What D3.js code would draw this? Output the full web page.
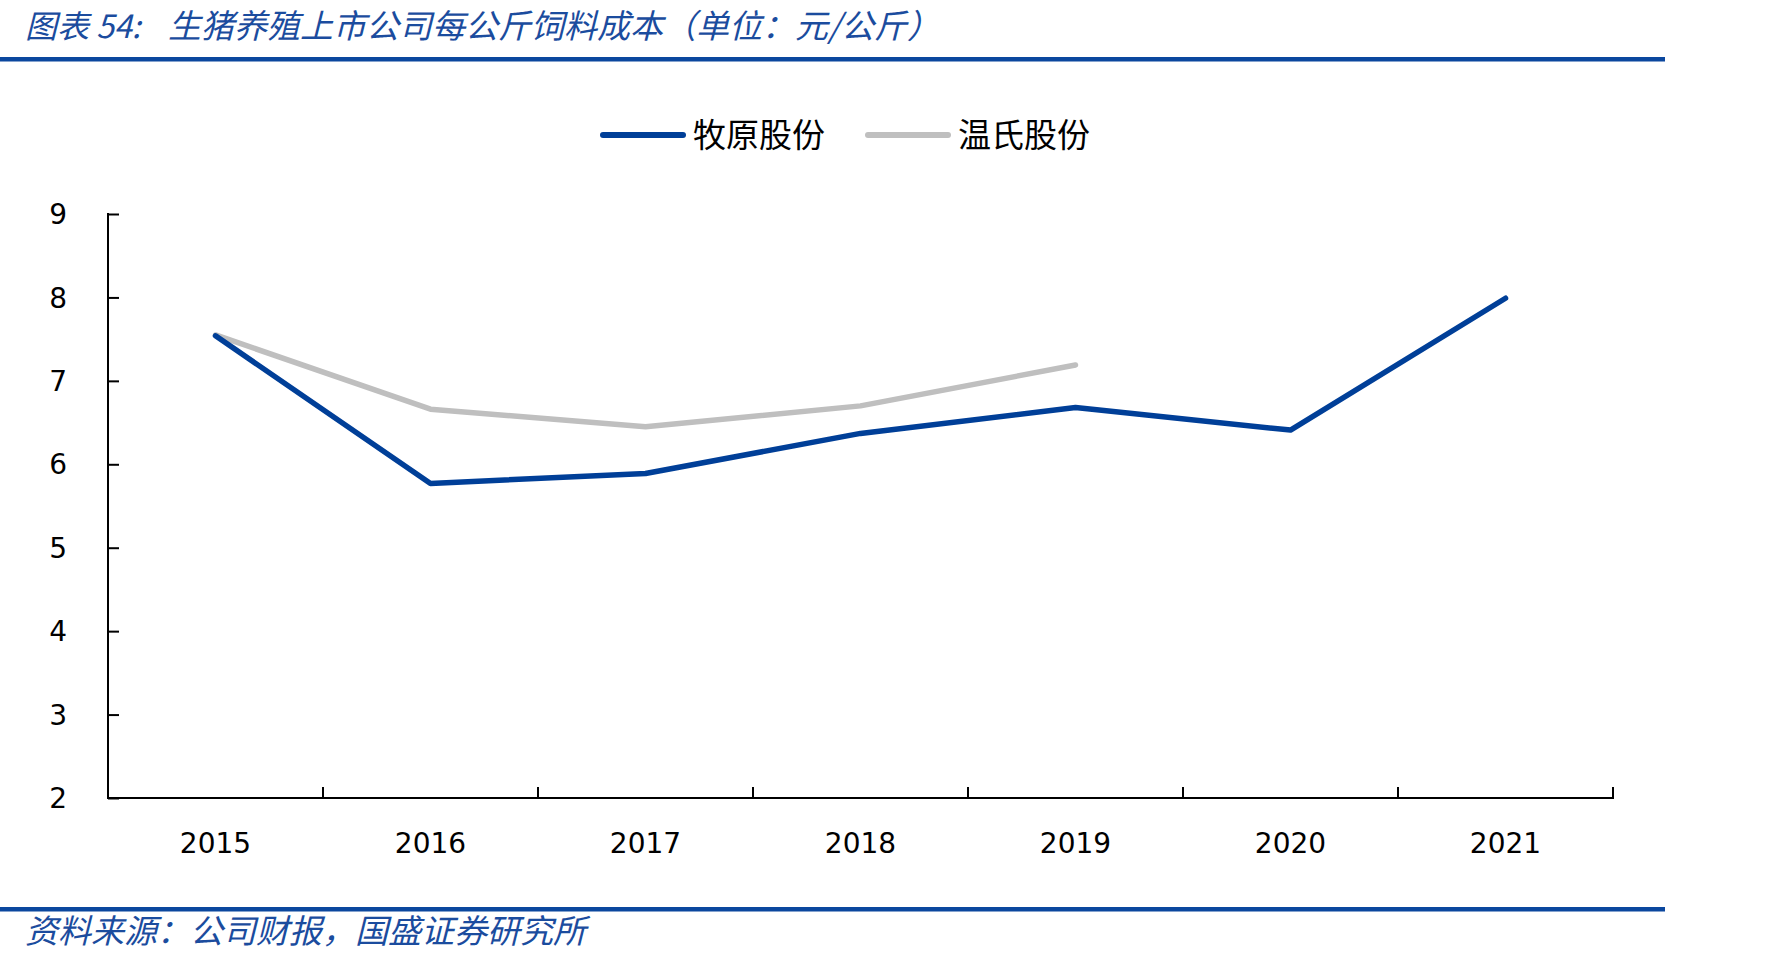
<!DOCTYPE html>
<html>
<head>
<meta charset="utf-8">
<script src="https://cdn.jsdelivr.net/npm/d3@7.9.0/dist/d3.min.js"></script>
<style>
  body { margin: 0; background: #fff; }
  svg { display: block; }
</style>
</head>
<body>
<svg id="chart" width="1784" height="961"></svg>
<script>
const years = ['2015', '2016', '2017', '2018', '2019', '2020', '2021']
const muyuan = [7.54, 5.77, 5.89, 6.37, 6.68, 6.41, 7.99]
const wens = [7.55, 6.66, 6.45, 6.70, 7.19, null, null]
const yTicks = [2, 3, 4, 5, 6, 7, 8, 9]

const titleLead = '图表 54:'
const titleText = '生猪养殖上市公司每公斤饲料成本（单位：元/公斤）'
const sourceText = '资料来源：公司财报，国盛证券研究所'

const blue = '#003f98'
const gray = '#bfbfbf'
const ruleBlue = '#0b479e'
const cjk = '"Noto Sans CJK SC", sans-serif'

const svg = d3.select('#chart')

// title + rules
svg.append('text')
    .attr('x', 25).attr('y', 38)
    .attr('font-family', cjk).attr('font-size', 32)
    .attr('font-style', 'italic')
    .attr('fill', '#1b4c9e')
    .text(titleLead)

svg.append('text')
    .attr('x', 168).attr('y', 38)
    .attr('font-family', cjk).attr('font-size', 33)
    .attr('font-style', 'italic')
    .attr('fill', '#1b4c9e')
    .text(titleText)

svg.append('rect').attr('x', 0).attr('y', 57).attr('width', 1665).attr('height', 4.5).attr('fill', ruleBlue)
svg.append('rect').attr('x', 0).attr('y', 907).attr('width', 1665).attr('height', 4.5).attr('fill', ruleBlue)

svg.append('text')
    .attr('x', 25).attr('y', 943)
    .attr('font-family', cjk).attr('font-size', 33)
    .attr('font-style', 'italic')
    .attr('fill', '#1b4c9e')
    .text(sourceText)

// scales
let x = d3.scaleBand().domain(years).range([108, 1613])
let y = d3.scaleLinear().domain([2, 9]).range([798, 214])
let cx = (d) => x(d) + x.bandwidth() / 2

// axes
let yAxis = svg.append('g')
    .attr('transform', 'translate(108,0)')
    .call(d3.axisRight(y).tickValues(yTicks).tickSize(11).tickFormat(''))
yAxis.select('.domain').remove()
yAxis.selectAll('line').attr('stroke', '#000').attr('stroke-width', 2)

svg.append('line')
    .attr('x1', 108).attr('x2', 108)
    .attr('y1', y(9) - 1).attr('y2', y(2) + 1)
    .attr('stroke', '#000').attr('stroke-width', 2)

svg.append('line')
    .attr('x1', 107).attr('x2', 1614)
    .attr('y1', y(2)).attr('y2', y(2))
    .attr('stroke', '#000').attr('stroke-width', 2)

let bounds = years.map((d) => x(d) + x.bandwidth())
svg.append('g').selectAll('line')
    .data(bounds)
    .join('line')
    .attr('x1', (d) => d).attr('x2', (d) => d)
    .attr('y1', y(2)).attr('y2', y(2) - 11)
    .attr('stroke', '#000').attr('stroke-width', 2)

svg.append('g').selectAll('text')
    .data(yTicks)
    .join('text')
    .attr('x', 67).attr('y', (d) => y(d))
    .attr('dy', '0.36em')
    .attr('text-anchor', 'end')
    .attr('font-family', 'DejaVu Sans, sans-serif').attr('font-size', 28)
    .attr('fill', '#000')
    .text((d) => d)

svg.append('g').selectAll('text')
    .data(years)
    .join('text')
    .attr('x', (d) => cx(d)).attr('y', 843)
    .attr('dy', '0.36em')
    .attr('text-anchor', 'middle')
    .attr('font-family', 'DejaVu Sans, sans-serif').attr('font-size', 28)
    .attr('fill', '#000')
    .text((d) => d)

// lines
let line = d3.line()
    .defined((d) => d[1] !== null)
    .x((d) => cx(d[0]))
    .y((d) => y(d[1]))

svg.append('path')
    .attr('d', line(years.map((d, i) => [d, wens[i]])))
    .attr('fill', 'none').attr('stroke', gray)
    .attr('stroke-width', 5.5).attr('stroke-linecap', 'round').attr('stroke-linejoin', 'round')

svg.append('path')
    .attr('d', line(years.map((d, i) => [d, muyuan[i]])))
    .attr('fill', 'none').attr('stroke', blue)
    .attr('stroke-width', 5.5).attr('stroke-linecap', 'round').attr('stroke-linejoin', 'round')

// legend
let legend = [
    { label: '牧原股份', color: blue, x: 603 },
    { label: '温氏股份', color: gray, x: 868 }
]
legend.forEach((d) => {
    svg.append('line')
        .attr('x1', d.x).attr('x2', d.x + 80)
        .attr('y1', 135).attr('y2', 135)
        .attr('stroke', d.color).attr('stroke-width', 6).attr('stroke-linecap', 'round')
    svg.append('text')
        .attr('x', d.x + 90).attr('y', 135)
        .attr('dy', '0.36em')
        .attr('font-family', cjk).attr('font-size', 33)
        .attr('fill', '#000')
        .text(d.label)
})
</script>
</body>
</html>
